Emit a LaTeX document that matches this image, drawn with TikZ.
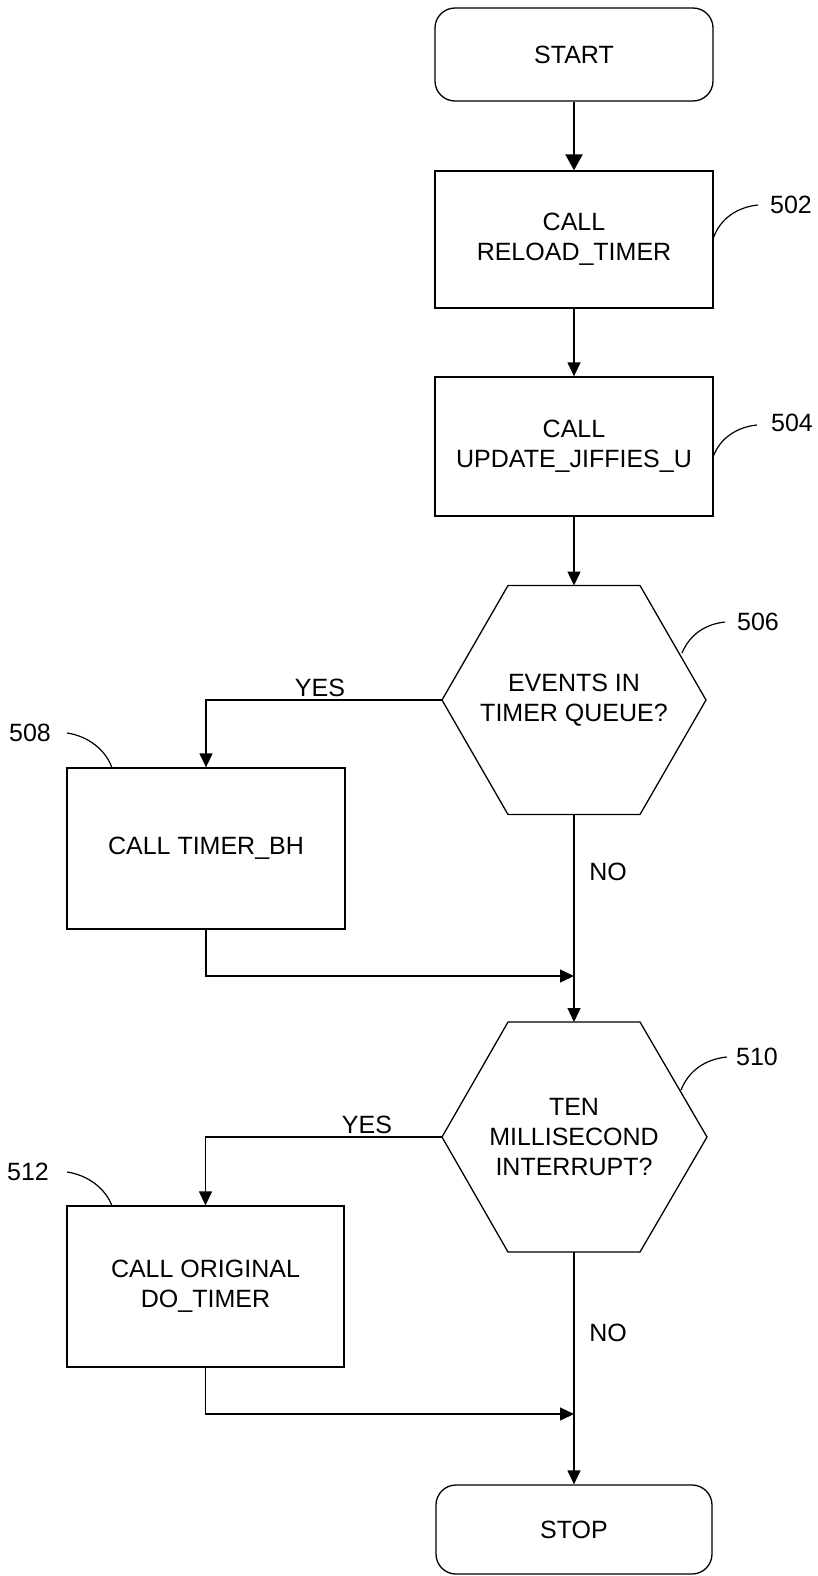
\documentclass[tikz,border=0pt]{standalone}
\usepackage{fontspec}
\setmainfont{Liberation Sans}
\usetikzlibrary{arrows.meta}
\begin{document}
\begin{tikzpicture}[x=1pt,y=-1pt,
  every node/.style={font=\fontsize{25}{30}\selectfont, inner sep=0pt},
  box/.style={draw, line width=1.3pt, rectangle, align=center},
  term/.style={draw, line width=1.3pt, rectangle, rounded corners=20pt, align=center},
  hexline/.style={line width=1.3pt},
  arr/.style={line width=1.3pt, -{Triangle[length=14pt,width=13pt]}},
  lead/.style={line width=1.2pt}]
\useasboundingbox (0,0) rectangle (817,1576);

\node[term, minimum width=278pt, minimum height=93pt] (start) at (574,54.5) {START};
\node[box, minimum width=278pt, minimum height=137pt] (b502) at (574,239.5) {CALL\\RELOAD\_TIMER};
\node[box, minimum width=278pt, minimum height=139pt] (b504) at (574,446.5) {CALL\\UPDATE\_JIFFIES\_U};

\node[align=center] (h506) at (574,700) {EVENTS IN\\TIMER QUEUE?};
\begin{scope}[shift={(574,700)}]
  \draw[hexline] (-66,-114.5) -- (66,-114.5) -- (132,0) -- (66,114.5) -- (-66,114.5) -- (-132,0) -- cycle;
  \coordinate (h506n) at (0,-114.5);
  \coordinate (h506s) at (0,114.5);
  \coordinate (h506w) at (-132,0);
\end{scope}

\node[box, minimum width=278pt, minimum height=161pt] (b508) at (206,848.5) {CALL TIMER\_BH};

\node[align=center] (h510) at (574,1137) {TEN\\MILLISECOND\\INTERRUPT?};
\begin{scope}[shift={(574,1137)}]
  \draw[hexline] (-66,-115) -- (66,-115) -- (133,0) -- (66,115) -- (-66,115) -- (-132,0) -- cycle;
  \coordinate (h510n) at (0,-115);
  \coordinate (h510s) at (0,115);
  \coordinate (h510w) at (-132,0);
\end{scope}

\node[box, minimum width=277pt, minimum height=161pt] (b512) at (205.5,1286.5) {CALL ORIGINAL\\DO\_TIMER};
\node[term, minimum width=276pt, minimum height=89pt] (stop) at (574,1529.5) {STOP};

\coordinate (m1) at (574,976);
\coordinate (m2) at (574,1414);

\node (l502) at (791,205) {502};
\node (l504) at (792,423) {504};
\node (l506) at (758,622) {506};
\node (l508) at (30,733) {508};
\node (l510) at (757,1057) {510};
\node (l512) at (28,1172) {512};

\node (yes1) at (320,688) {YES};
\node (no1) at (608,872) {NO};
\node (yes2) at (367,1125) {YES};
\node (no2) at (608,1333) {NO};

\draw[line width=2.2pt, -{Triangle[length=16pt,width=17pt]}] (start) -- (b502);
\draw[arr] (b502) -- (b504);
\draw[arr] (b504) -- (h506n);
\draw[arr] (h506w) -| (b508.north);
\draw[arr] (h506s) -- (h510n);
\draw[arr] (b508.south) |- (m1);
\draw[arr] (h510w) -| (b512.north);
\draw[arr] (h510s) -- (stop);
\draw[arr] (b512.south) |- (m2);

\draw[lead] (713,239) .. controls (720,218) and (738,207) .. (758,205);
\draw[lead] (713,457) .. controls (720,438) and (737,427) .. (757,425);
\draw[lead] (682,653) .. controls (690,634) and (706,624) .. (725,622);
\draw[lead] (681,1090) .. controls (689,1070) and (706,1059) .. (727,1057);
\draw[lead] (67,733) .. controls (88,736) and (106,750) .. (112,768);
\draw[lead] (67,1172) .. controls (88,1175) and (106,1189) .. (112,1206);
\end{tikzpicture}
\end{document}
